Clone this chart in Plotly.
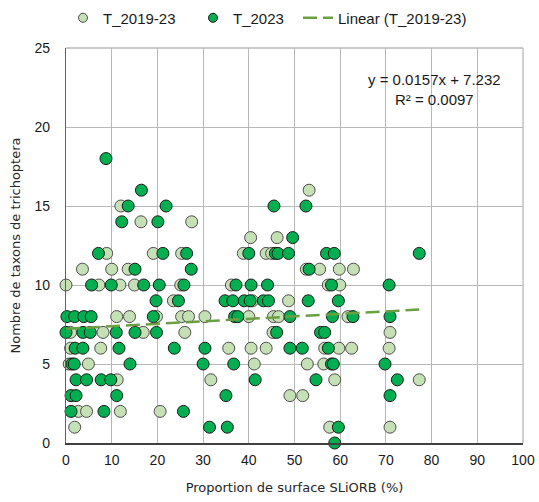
import plotly.graph_objects as go

# T_2019-23 observations (proportion of SLiORB surface %, number of taxa)
x_2019_23 = [53.2, 12.0, 16.4, 27.5, 40.4, 46.2,
             8.9, 19.1, 25.3, 38.8, 43.8, 45.0,
             3.6, 10.0, 13.6, 52.6, 55.5, 59.8, 62.9,
             0.0, 7.2, 11.8, 15.0, 25.1, 36.2, 57.4, 59.9,
             23.5, 40.8, 48.7,
             11.1, 13.9, 19.8, 25.3, 26.8, 30.4, 40.0, 45.4, 46.5, 61.7,
             1.0, 8.1, 16.9, 26.0, 45.3, 70.9,
             1.0, 7.6, 35.6, 40.5, 43.8, 56.6, 59.7, 62.5, 70.7,
             0.7, 4.9, 41.2, 52.8, 56.4,
             11.2, 31.7, 58.8, 77.3,
             49.0, 51.8,
             2.7, 4.5, 11.9, 20.6,
             1.9, 57.7, 70.9]
y_2019_23 = [16, 15, 14, 14, 13, 13,
             12, 12, 12, 12, 12, 12,
             11, 11, 11, 11, 11, 11, 11,
             10, 10, 10, 10, 10, 10, 10, 10,
             9, 9, 9,
             8, 8, 8, 8, 8, 8, 8, 8, 8, 8,
             7, 7, 7, 7, 7, 7,
             6, 6, 6, 6, 6, 6, 6, 6, 6,
             5, 5, 5, 5, 5,
             4, 4, 4, 4,
             3, 3,
             2, 2, 2, 2,
             1, 1, 1]

# T_2023 observations
x_2023 = [8.75, 16.5,
          13.6, 21.9, 45.5, 52.5,
          12.2, 20.1,
          49.6,
          7.1, 21.2, 26.4, 40.0, 45.8, 46.4, 48.7, 57.0, 58.7, 77.3,
          15.1, 27.4, 53.2,
          5.6, 9.9, 17.0, 20.4, 25.8, 37.2, 40.5, 44.1, 58.1, 70.7,
          19.7, 24.6, 34.8, 36.5, 39.0, 40.3, 43.2, 44.3, 53.0, 59.6,
          0.2, 1.9, 3.9, 5.5, 19.1, 36.9, 37.6, 49.0, 58.3, 62.8, 70.9,
          0.0, 3.7, 5.3, 11.0, 15.1, 19.8, 46.1, 55.7, 56.6,
          2.0, 3.7, 11.6, 23.7, 30.4, 49.0, 51.7, 57.4,
          1.3, 1.8, 14.0, 30.0, 36.7, 58.1, 58.5, 69.8,
          2.2, 4.5, 7.7, 9.8, 41.4, 54.7, 72.5,
          1.1, 2.2, 11.1, 35.0, 70.9,
          1.1, 8.3, 25.7,
          31.4, 35.3, 59.6,
          58.8]
y_2023 = [18, 16,
          15, 15, 15, 15,
          14, 14,
          13,
          12, 12, 12, 12, 12, 12, 12, 12, 12, 12,
          11, 11, 11,
          10, 10, 10, 10, 10, 10, 10, 10, 10, 10,
          9, 9, 9, 9, 9, 9, 9, 9, 9, 9,
          8, 8, 8, 8, 8, 8, 8, 8, 8, 8, 8,
          7, 7, 7, 7, 7, 7, 7, 7, 7,
          6, 6, 6, 6, 6, 6, 6, 6,
          5, 5, 5, 5, 5, 5, 5, 5,
          4, 4, 4, 4, 4, 4, 4,
          3, 3, 3, 3, 3,
          2, 2, 2,
          1, 1, 1,
          0]

# Linear trend for T_2019-23 (stated equation)
slope = 0.0157
intercept = 7.232
r2 = 0.0097

x_ticks = list(range(0, 101, 10))
y_ticks = list(range(0, 26, 5))

trend_x = [min(x_2019_23), max(x_2019_23)]
trend_y = [slope * v + intercept for v in trend_x]

LIGHT = dict(color="#c5e0b4", line=dict(color="#4d4d4d", width=1))
DARK = dict(color="#00b050", line=dict(color="#1a1a1a", width=1))
TREND = dict(color="#6a9f42", width=2.5, dash="14px,6px")

fig = go.Figure()

# data markers (legend drawn by small-symbol entries below)
fig.add_trace(go.Scatter(
    x=x_2019_23, y=y_2019_23, mode="markers", name="T_2019-23",
    marker=dict(size=12, **LIGHT), cliponaxis=False, showlegend=False,
))
fig.add_trace(go.Scatter(
    x=x_2023, y=y_2023, mode="markers", name="T_2023",
    marker=dict(size=12, **DARK), cliponaxis=False, showlegend=False,
))
fig.add_trace(go.Scatter(
    x=trend_x, y=trend_y, mode="lines", name="Linear (T_2019-23)",
    line=TREND, legend="legend3",
))

# legend entries with smaller symbols
fig.add_trace(go.Scatter(
    x=[None], y=[None], mode="markers", name="T_2019-23",
    marker=dict(size=9, **LIGHT), legend="legend",
))
fig.add_trace(go.Scatter(
    x=[None], y=[None], mode="markers", name="T_2023",
    marker=dict(size=9, **DARK), legend="legend2",
))

fig.add_annotation(
    x=0.807, y=0.896, xref="paper", yref="paper",
    xanchor="center", yanchor="middle",
    text=f"y = {slope}x + {intercept}<br>R² = {r2}",
    showarrow=False, align="center",
    font=dict(family="Liberation Sans, Arial", size=15, color="#1a1a1a"),
)

grid = "#b8b8b8"
fig.update_xaxes(
    range=[0, 100], tickvals=x_ticks, showgrid=True, gridcolor=grid, gridwidth=1.3,
    zeroline=False, showline=True, linecolor="#404040", linewidth=1.5,
    mirror=False, ticks="", ticklabelstandoff=3, automargin=False,
    tickfont=dict(family="Liberation Sans, Arial", size=14, color="#1a1a1a"),
    title=dict(text="Proportion de surface SLiORB (%)", standoff=16,
               font=dict(family="DejaVu Sans", size=13, color="#262626")),
)
fig.update_yaxes(
    range=[0, 25], tickvals=y_ticks, showgrid=True, gridcolor=grid, gridwidth=1.3,
    zeroline=False, showline=True, linecolor="#606060", linewidth=1.3,
    ticks="", ticklabelstandoff=12, automargin=False,
    tickfont=dict(family="Liberation Sans, Arial", size=14, color="#1a1a1a"),
    title=dict(text="Nombre de taxons de trichoptera", standoff=10,
               font=dict(family="DejaVu Sans", size=13, color="#262626")),
)

# top and right plot border drawn as grid-coloured lines
fig.add_shape(type="line", xref="paper", yref="paper", x0=0, x1=1, y0=1, y1=1,
              line=dict(color=grid, width=1.3))
fig.add_shape(type="line", xref="paper", yref="paper", x0=1, x1=1, y0=0, y1=1,
              line=dict(color=grid, width=1.3))

legend_font = dict(family="Liberation Sans, Arial", size=15, color="#1a1a1a")


def legend_at(px):
    return dict(
        orientation="h", x=px / 539, xanchor="left", xref="container",
        y=0.964, yanchor="middle", yref="container",
        font=legend_font, itemwidth=30, borderwidth=0, bgcolor="rgba(0,0,0,0)",
    )


fig.update_layout(
    width=539, height=502,
    margin=dict(l=66, r=16, t=48, b=59, autoexpand=False),
    paper_bgcolor="white", plot_bgcolor="white",
    showlegend=True,
    legend=legend_at(63),
    legend2=legend_at(193),
    legend3=legend_at(298),
)

fig.write_html("out.html")
